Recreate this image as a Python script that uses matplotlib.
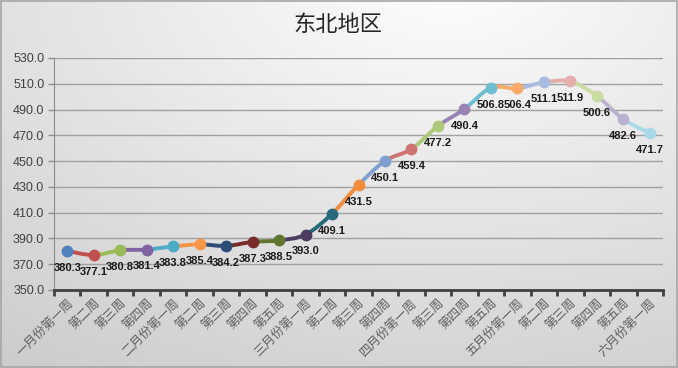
import numpy as np
import matplotlib
matplotlib.use("Agg")
import matplotlib.pyplot as plt
from matplotlib.path import Path
from matplotlib.patches import PathPatch, Rectangle

plt.rcParams['font.family'] = ['Noto Sans CJK SC', 'DejaVu Sans']

title = "东北地区"
categories = ["一月份第一周", "第二周", "第三周", "第四周",
              "二月份第一周", "第二周", "第三周", "第四周", "第五周",
              "三月份第一周", "第二周", "第三周", "第四周",
              "四月份第一周", "第三周", "第四周", "第五周",
              "五月份第一周", "第二周", "第三周", "第四周", "第五周",
              "六月份第一周"]
values = [380.3, 377.1, 380.8, 381.4, 383.8, 385.4, 384.2, 387.3, 388.5, 393.0,
          409.1, 431.5, 450.1, 459.4, 477.2, 490.4, 506.8, 506.4, 511.1, 511.9,
          500.6, 482.6, 471.7]
point_colors = ["#4F81BD", "#C0504D", "#9BBB59", "#8064A2", "#4BACC6", "#F79646",
                "#2C4D75", "#772C2A", "#5F7530", "#4D3B62", "#276A7C", "#F08C3C",
                "#7F9FCF", "#CD7371", "#AFC97A", "#9983B5", "#6FBDD1", "#F9AB6B",
                "#A9BCE0", "#E3AEAC", "#C9DCA2", "#BDB1D0", "#AADAE8"]
yticks = [350, 370, 390, 410, 430, 450, 470, 490, 510, 530]

W, H = 678, 368
fig = plt.figure(figsize=(W / 100, H / 100), dpi=100)

# background gradient
bg = fig.add_axes([0, 0, 1, 1], zorder=-10)
gx, gy = np.meshgrid(np.linspace(0, 1, 300), np.linspace(1, 0, 160))
d = np.sqrt(((gx - 0.66) * 1.0) ** 2 + ((gy - 1.05) * 0.9) ** 2)
v = np.clip(0.995 - 0.17 * d, 0, 1)
bg.imshow(np.dstack([v, v, v]), aspect='auto', extent=[0, 1, 0, 1], interpolation='bilinear')
bg.add_patch(Rectangle((0.001, 0.002), 0.997, 0.995, fill=False, edgecolor="#a6a6a6", lw=1.2,
                       transform=bg.transAxes))
bg.set_xlim(0, 1); bg.set_ylim(0, 1)
bg.axis('off')

ax = fig.add_axes([54 / W, 1 - 290 / H, (663 - 54) / W, (290 - 58) / H])
ax.patch.set_alpha(0)
n = len(values)
x = np.arange(n)
ax.set_xlim(-0.5, n - 0.5)
ax.set_ylim(350, 530)
ax.set_yticks(yticks)
ax.set_yticklabels([f"{t:.1f}" for t in yticks], fontsize=9, color="#404040",
                   family=['Liberation Sans', 'DejaVu Sans'])
ax.yaxis.grid(True, color="#a0a0a0", lw=1.0)
ax.set_axisbelow(True)

ax.set_xticks(x)
ax.set_xticklabels(categories, rotation=45, ha='right', rotation_mode='anchor',
                   fontsize=9, color="#606060")
ax.tick_params(axis='x', which='major', length=0, pad=5)
ax.set_xticks(np.arange(n + 1) - 0.5, minor=True)
ax.tick_params(axis='x', which='minor', length=4, width=2, color="#404040", direction='out')
ax.tick_params(axis='y', length=4, width=1, color="#8c8c8c", pad=3)

for s in ['top', 'right']:
    ax.spines[s].set_visible(False)
ax.spines['left'].set_color("#8c8c8c")
ax.spines['bottom'].set_color("#404040")
ax.spines['bottom'].set_linewidth(2)

# smooth segments (Catmull-Rom bezier), each segment colored like its end point
P = np.column_stack([x, values]).astype(float)
for i in range(n - 1):
    p0 = P[i - 1] if i > 0 else P[i]
    p1 = P[i]
    p2 = P[i + 1]
    p3 = P[i + 2] if i + 2 < n else P[i + 1]
    c1 = p1 + (p2 - p0) / 6.0
    c2 = p2 - (p3 - p1) / 6.0
    path = Path([p1, c1, c2, p2], [Path.MOVETO, Path.CURVE4, Path.CURVE4, Path.CURVE4])
    ax.add_patch(PathPatch(path, fill=False, edgecolor=point_colors[i + 1], lw=2.8,
                           capstyle='round', zorder=3))

for i in range(n):
    ax.plot(x[i], values[i], 'o', ms=7.5, color=point_colors[i], mec=point_colors[i],
            zorder=4)
    ax.annotate(f"{values[i]:.1f}", (x[i], values[i]), xytext=(0, -8.5),
                textcoords='offset points', ha='center', va='top', fontsize=8,
                fontweight='bold', family=['Liberation Sans', 'DejaVu Sans'],
                color="#1a1a1a", zorder=5)

fig.text(338 / W, 1 - 24 / H, title, ha='center', va='center', fontsize=16, color="#262626")

fig.savefig("out.png", dpi=100)
